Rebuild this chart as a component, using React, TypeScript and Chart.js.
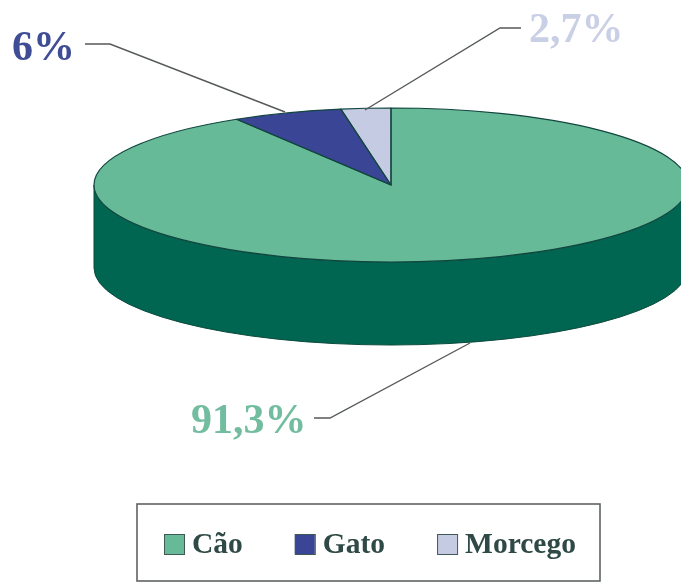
import { useEffect, useRef } from "react";
import { Chart, registerables } from "chart.js";

Chart.register(...registerables);

const categories = ["Cão", "Gato", "Morcego"];
const shares = [91.3, 6, 2.7];
const topColors = ["#66ba97", "#3a4595", "#c4cbe3"];
const sideColors = ["#006651", "#232a66", "#8f96b5"];
const labelColors = ["#72bd9f", "#3f4d96", "#c9cfe5"];

const SERIF = '"Liberation Serif", serif';
const OUTLINE = "#12463f";
const LEADER = "#555a58";

// Where the tilted disc sits on the canvas, and its wall height
const disc = { cx: 391, cy: 185, rx: 297, ry: 77, depth: 83 };

// One leader per slice: label anchor, then the polyline towards the disc
const leaders = [
  { textX: 191, textY: 433, path: [[314, 418], [330, 418], [470, 343]] },
  { textX: 12, textY: 60, path: [[85, 44], [110, 44], [285, 112]] },
  { textX: 529, textY: 42, path: [[521, 28], [500, 28], [365, 110]] },
];

const formatShare = (v: number) => `${String(v).replace(".", ",")}%`;

function applyTilt(ctx: CanvasRenderingContext2D, arc: any) {
  const r = arc.outerRadius;
  ctx.translate(disc.cx, disc.cy);
  ctx.scale(disc.rx / r, disc.ry / r);
  ctx.translate(-arc.x, -arc.y);
}

const tiltedPie = {
  id: "tiltedPie",
  beforeDatasetsDraw(chart: any) {
    const ctx = chart.ctx;
    const arcs = chart.getDatasetMeta(0).data;
    // Cylinder wall: only the front half of each slice's rim can be seen
    arcs.forEach((arc: any, i: number) => {
      const props = arc.getProps(["startAngle", "endAngle"], true);
      const ranges = [
        [props.startAngle, props.endAngle],
        [props.startAngle - 2 * Math.PI, props.endAngle - 2 * Math.PI],
      ];
      ranges.forEach(([s, e]) => {
        const a = Math.max(s, 0);
        const b = Math.min(e, Math.PI);
        if (b <= a) return;
        ctx.save();
        ctx.beginPath();
        ctx.ellipse(disc.cx, disc.cy, disc.rx, disc.ry, 0, a, b);
        ctx.ellipse(disc.cx, disc.cy + disc.depth, disc.rx, disc.ry, 0, b, a, true);
        ctx.closePath();
        ctx.fillStyle = sideColors[i];
        ctx.fill();
        ctx.strokeStyle = "#0b4a3c";
        ctx.lineWidth = 1;
        ctx.stroke();
        ctx.restore();
      });
    });
  },
  beforeDatasetDraw(chart: any) {
    const ctx = chart.ctx;
    ctx.save();
    applyTilt(ctx, chart.getDatasetMeta(0).data[0]);
  },
  afterDatasetDraw(chart: any) {
    const ctx = chart.ctx;
    ctx.restore();
    // Outlines are stroked after the tilt is undone, so their width stays even
    chart.getDatasetMeta(0).data.forEach((arc: any) => {
      const props = arc.getProps(["x", "y", "startAngle", "endAngle", "outerRadius"], true);
      ctx.save();
      ctx.save();
      applyTilt(ctx, arc);
      ctx.beginPath();
      ctx.moveTo(props.x, props.y);
      ctx.arc(props.x, props.y, props.outerRadius, props.startAngle, props.endAngle);
      ctx.closePath();
      ctx.restore();
      ctx.strokeStyle = OUTLINE;
      ctx.lineWidth = 1.2;
      ctx.lineJoin = "round";
      ctx.stroke();
      ctx.restore();
    });
  },
  afterDraw(chart: any) {
    const ctx = chart.ctx;
    ctx.save();

    // Percentage labels and their leader lines
    leaders.forEach((leader, i) => {
      ctx.beginPath();
      leader.path.forEach(([x, y], k) => (k ? ctx.lineTo(x, y) : ctx.moveTo(x, y)));
      ctx.strokeStyle = LEADER;
      ctx.lineWidth = 1.4;
      ctx.stroke();
      ctx.font = `bold 42px ${SERIF}`;
      ctx.fillStyle = labelColors[i];
      ctx.textAlign = "left";
      ctx.textBaseline = "alphabetic";
      ctx.fillText(formatShare(shares[i]), leader.textX, leader.textY);
    });

    // Legend frame
    ctx.strokeStyle = "#5e6361";
    ctx.lineWidth = 1.6;
    ctx.strokeRect(137, 504, 463, 77);

    // Legend entries
    let x = 164;
    ctx.font = `bold 29.5px ${SERIF}`;
    categories.forEach((name, i) => {
      ctx.fillStyle = topColors[i];
      ctx.fillRect(x, 534, 20, 20);
      ctx.strokeStyle = "#3f5a55";
      ctx.lineWidth = 1;
      ctx.strokeRect(x + 0.5, 534.5, 20, 20);
      ctx.fillStyle = "#2f4a46";
      ctx.fillText(name, x + 28, 553);
      x += 28 + ctx.measureText(name).width + 52;
    });
    ctx.restore();
  },
};

export default function App() {
  const ref = useRef<HTMLCanvasElement>(null);

  useEffect(() => {
    const chart = new Chart(ref.current!, {
      type: "pie",
      data: {
        labels: categories,
        datasets: [
          {
            data: shares,
            backgroundColor: topColors,
            borderWidth: 0,
            clip: false,
          } as any,
        ],
      },
      options: {
        responsive: false,
        animation: false,
        events: [],
        layout: { padding: 0 },
        plugins: { legend: { display: false }, tooltip: { enabled: false } },
      },
      plugins: [tiltedPie],
    });
    return () => chart.destroy();
  }, []);

  return (
    <div style={{ position: "fixed", left: 0, top: 0, width: 681, height: 582, background: "#fff" }}>
      <canvas ref={ref} width={681} height={582} style={{ display: "block" }} />
    </div>
  );
}
